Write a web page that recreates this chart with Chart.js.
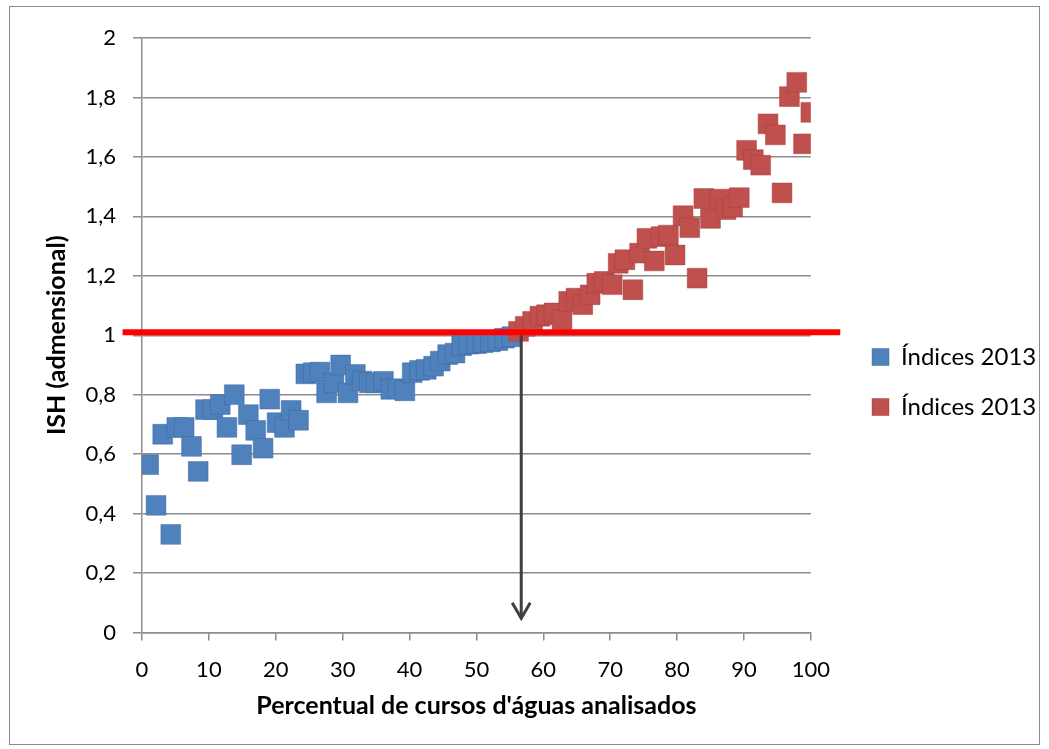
<!DOCTYPE html>
<html>
<head>
<meta charset="utf-8">
<script src="https://cdn.jsdelivr.net/npm/chart.js@4.4.1/dist/chart.umd.min.js"></script>
<style>
  body { margin: 0; background: #fff; }
  #wrap { width: 1049px; height: 749px; }
</style>
</head>
<body>
<div id="wrap"><canvas id="ishChart" width="1049" height="749"></canvas></div>
<script>
// DATA
const seriesLabels = ['Índices 2013', 'Índices 2013'];

const blueX = [1.0, 2.1, 3.1, 4.3, 5.2, 6.3, 7.4, 8.4, 9.5, 10.6,
    11.7, 12.7, 13.8, 14.9, 15.9, 17.0, 18.1, 19.1, 20.2, 21.3,
    22.3, 23.4, 24.5, 25.6, 26.6, 27.6, 28.7, 29.7, 30.8, 31.9,
    32.9, 34.0, 35.0, 36.1, 37.2, 38.2, 39.3, 40.4, 41.5, 42.5,
    43.6, 44.6, 45.7, 46.8, 47.8, 48.9, 50.0, 51.0, 52.1, 53.2,
    54.2, 55.3];
const blueY = [0.565, 0.428, 0.667, 0.33, 0.69, 0.69, 0.626, 0.542, 0.75, 0.75,
    0.767, 0.69, 0.80, 0.598, 0.733, 0.68, 0.62, 0.785, 0.706, 0.69,
    0.747, 0.714, 0.87, 0.874, 0.876, 0.806, 0.84, 0.90, 0.806, 0.868,
    0.846, 0.84, 0.84, 0.845, 0.818, 0.82, 0.813, 0.874, 0.882, 0.885,
    0.896, 0.913, 0.935, 0.94, 0.965, 0.97, 0.972, 0.975, 0.978, 0.982,
    0.99, 0.995];

const redX = [56.3, 57.3, 58.4, 59.5, 60.5, 61.6, 62.8, 63.8, 64.9, 65.9,
    67.0, 68.0, 69.1, 70.3, 71.2, 72.2, 73.4, 74.4, 75.5, 76.6,
    77.6, 78.7, 79.7, 80.9, 81.9, 83.0, 84.0, 85.0, 86.4, 87.3,
    88.3, 89.3, 90.4, 91.4, 92.5, 93.6, 94.7, 95.7, 96.8, 97.9,
    98.9, 100];
const redY = [1.013, 1.03, 1.047, 1.064, 1.069, 1.075, 1.053, 1.114, 1.125, 1.103,
    1.136, 1.175, 1.181, 1.17, 1.242, 1.254, 1.153, 1.276, 1.326, 1.25,
    1.332, 1.337, 1.27, 1.402, 1.362, 1.192, 1.46, 1.393, 1.458, 1.423,
    1.432, 1.463, 1.622, 1.591, 1.572, 1.711, 1.674, 1.479, 1.803, 1.851,
    1.644, 1.75];

// reference line (ISH = 1) and the arrow down to the x axis
const limitX = [-2.9, 104.4];
const limitY = [1.01, 1.01];
const arrowX = [56.7, 56.7];
const arrowY = [1.0, 0.05];
const arrowHeadX = [55.35, 56.7, 58.05];
const arrowHeadY = [0.1, 0.048, 0.1];

const xTickLabels = ['0', '10', '20', '30', '40', '50', '60', '70', '80', '90', '100'];
const yTickLabels = ['0', '0,2', '0,4', '0,6', '0,8', '1', '1,2', '1,4', '1,6', '1,8', '2'];

const xTitle = "Percentual de cursos d'águas analisados";
const yTitle = 'ISH (admensional)';

const toPoints = (xs, ys) => xs.map((x, i) => ({ x: x, y: ys[i] }));

// outer frame of the chart
const framePlugin = {
    id: 'frame',
    beforeDraw(chart) {
        const c = chart.ctx;
        c.save();
        c.fillStyle = '#ffffff';
        c.fillRect(0, 0, chart.width, chart.height);
        c.strokeStyle = '#8c8c8c';
        c.lineWidth = 1;
        c.strokeRect(9.5, 6.5, 1030, 738);
        c.restore();
    }
};

// the legend sits a bit away from the plot, like in the original
const legendShift = {
    id: 'legendShift',
    afterLayout(chart) {
        const lg = chart.legend;
        if (!lg) return;
        lg.left = 846;
        lg.right = 1049;
        lg.width = lg.right - lg.left;
    }
};

const tickFont = { family: 'Lato', size: 22 };
const legendFont = { family: 'Lato', size: 24 };
const titleFont = { family: 'Lato', size: 25, weight: 'bold' };
const gridColor = '#8c8c8c';

const makeChart = () => {
    const ctx = document.getElementById('ishChart');
    new Chart(ctx, {
        type: 'scatter',
        data: {
            datasets: [{
                label: seriesLabels[0],
                data: toPoints(blueX, blueY),
                backgroundColor: '#4f81bd',
                borderColor: 'rgba(60,100,160,0.45)',
                borderWidth: 1,
                pointStyle: 'rect',
                pointRadius: 14,
                pointHoverRadius: 14,
                order: 2
            }, {
                label: seriesLabels[1],
                data: toPoints(redX, redY),
                backgroundColor: '#c0504d',
                borderColor: 'rgba(160,60,58,0.45)',
                borderWidth: 1,
                pointStyle: 'rect',
                pointRadius: 14,
                pointHoverRadius: 14,
                order: 1
            }, {
                label: 'limite',
                data: toPoints(limitX, limitY),
                showLine: true,
                borderColor: '#ff0000',
                borderWidth: 6,
                pointRadius: 0,
                clip: false,
                order: 0
            }, {
                label: 'seta',
                data: toPoints(arrowX, arrowY),
                showLine: true,
                borderColor: '#404040',
                borderWidth: 3,
                pointRadius: 0,
                clip: false,
                order: 0
            }, {
                label: 'ponta',
                data: toPoints(arrowHeadX, arrowHeadY),
                showLine: true,
                borderColor: '#404040',
                borderWidth: 3,
                pointRadius: 0,
                clip: false,
                order: 0
            }]
        },
        options: {
            responsive: false,
            animation: false,
            events: [],
            layout: { padding: { top: 15, right: 16, bottom: 0, left: 0 } },
            plugins: {
                tooltip: { enabled: false },
                legend: {
                    position: 'right',
                    labels: {
                        font: legendFont,
                        color: '#000',
                        boxWidth: 17,
                        boxHeight: 17,
                        padding: 26,
                        filter: item => item.datasetIndex < 2,
                        sort: (a, b) => a.datasetIndex - b.datasetIndex
                    }
                }
            },
            scales: {
                x: {
                    type: 'linear',
                    min: 0,
                    max: 100,
                    afterFit: s => { s.height = 116.5; },
                    afterBuildTicks: s => { s.ticks = xTickLabels.map((t, i) => ({ value: i * 10 })); },
                    ticks: {
                        font: tickFont,
                        color: '#000',
                        padding: 16,
                        callback: (v, i) => xTickLabels[i]
                    },
                    grid: { drawOnChartArea: false, tickLength: 8, color: gridColor, lineWidth: 1.5 },
                    border: { color: gridColor, width: 1.5 },
                    title: {
                        display: true,
                        text: xTitle,
                        font: titleFont,
                        color: '#000',
                        padding: { top: 0, bottom: 28 }
                    }
                },
                y: {
                    type: 'linear',
                    min: 0,
                    max: 2,
                    afterFit: s => { s.width = 142; },
                    afterBuildTicks: s => { s.ticks = yTickLabels.map((t, i) => ({ value: i * 0.2 })); },
                    ticks: {
                        font: tickFont,
                        color: '#000',
                        padding: 17,
                        callback: (v, i) => yTickLabels[i]
                    },
                    grid: { tickLength: 9, color: gridColor, lineWidth: 1.5 },
                    border: { color: gridColor, width: 1.5 },
                    title: {
                        display: true,
                        text: yTitle,
                        font: titleFont,
                        color: '#000',
                        padding: { top: 42, bottom: 0 }
                    }
                },
                xTop: {
                    type: 'linear',
                    position: 'top',
                    afterFit: s => { s.height = 23; },
                    grid: { display: false },
                    ticks: { display: false },
                    border: { display: false }
                },
                yRight: {
                    type: 'linear',
                    position: 'right',
                    afterFit: s => { s.width = 50; },
                    grid: { display: false },
                    ticks: { display: false },
                    border: { display: false }
                }
            }
        },
        plugins: [framePlugin, legendShift]
    });
};

if (document.fonts && document.fonts.load) {
    Promise.all([
        document.fonts.load('22px Lato'),
        document.fonts.load('bold 25px Lato')
    ]).then(makeChart, makeChart);
} else {
    makeChart();
}
</script>
</body>
</html>
